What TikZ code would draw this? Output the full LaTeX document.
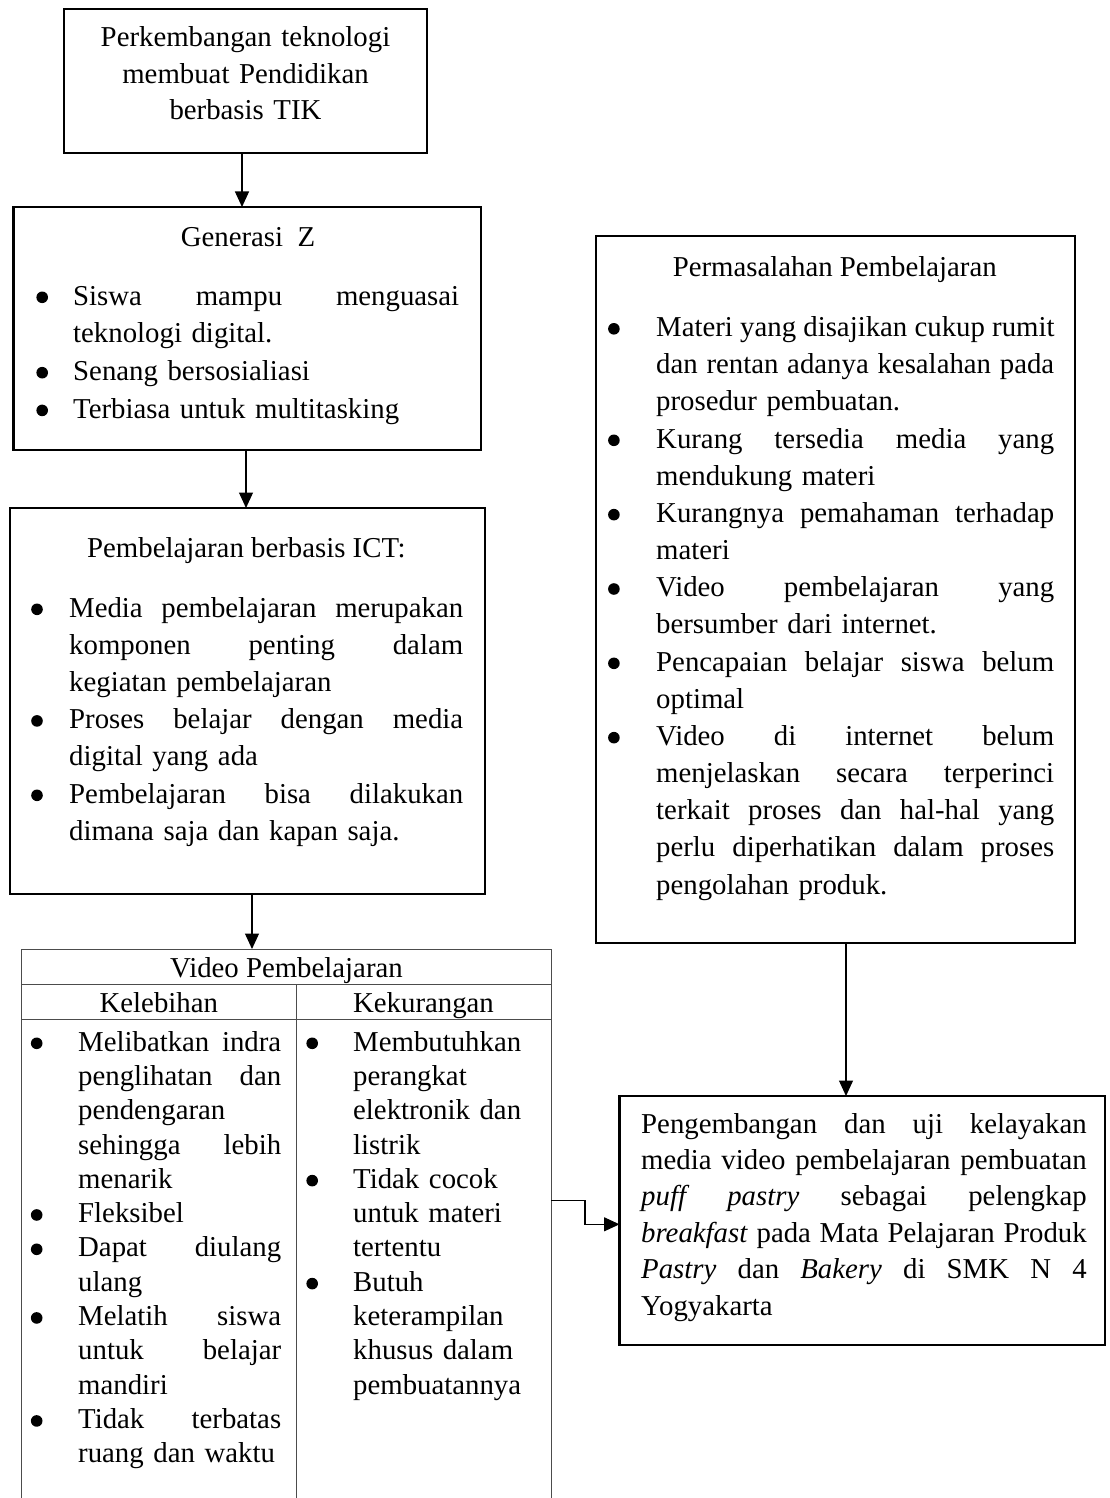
\documentclass[tikz,border=0pt]{standalone}
\usepackage{fontspec}
\setmainfont{Liberation Serif}
\usetikzlibrary{arrows.meta}
\newlength\ind
\newlength\jw
\newcommand\bul{\makebox[0pt][c]{\raisebox{1.9pt}{\tikz\fill[black] (0,0) circle[radius=5.8pt];}}}
\newcommand\sj[1]{\leavevmode\hbox to \jw{\spaceskip=0.25em plus 1fil\relax #1}}
\newcommand\BL[1]{\makebox[\ind][l]{\bul}#1}
\newcommand\BJ[1]{\makebox[\ind][l]{\bul}\sj{#1}}
\newcommand\CL[1]{\hspace*{\ind}#1}
\newcommand\CJ[1]{\hspace*{\ind}\sj{#1}}
\newcommand\JL[1]{\sj{#1}}
\tikzset{
  box/.style={draw, line width=2.3pt, inner sep=0pt, outer sep=0pt, anchor=north west},
  arr/.style={line width=1.2pt, -{Triangle[length=15.5pt,width=14pt]}},
  conn/.style={line width=1.1pt, -{Triangle[length=15.5pt,width=14pt]}},
  txt/.style={inner sep=0pt, font=\fontsize{28.8}{37.2}\selectfont},
  lst/.style={txt, align=left, anchor=base west},
  tline/.style={line width=1pt, black!70},
}
\begin{document}
\begin{tikzpicture}[x=1pt,y=-1pt]
\path[use as bounding box, fill=white] (0,0) rectangle (1109,1498);

% boxes
\node[box, minimum width=363pt, minimum height=143.7pt] (b1) at (64,9) {};
\node[box, minimum width=467.4pt, minimum height=243pt] (b2) at (13.6,207) {};
\node[box, minimum width=475pt, minimum height=386pt] (b3) at (10,508) {};
\node[box, minimum width=479pt, minimum height=707pt] (pm) at (596,236) {};
\node[box, minimum width=485.5pt, minimum height=249pt] (fin) at (619.5,1096) {};
\node[inner sep=0pt, outer sep=0pt, anchor=north west, minimum width=529.8pt, minimum height=549pt] (tbl) at (21.6,949) {};

% table lines
\draw[tline] (tbl.south west) -- (tbl.north west) -- (tbl.north east) -- (tbl.south east);
\draw[tline] (21.6,984) -- (551.4,984);
\draw[tline] (21.6,1019) -- (551.4,1019);
\draw[tline] (296,984) -- (296,1498);

% box 1 text
\node[txt, anchor=base, align=center, text width=363pt, font=\fontsize{28.8}{36.5}\selectfont] (t1) at (245.5,46.7)
  {Perkembangan teknologi\\membuat Pendidikan\\berbasis TIK};

% box 2
\node[txt, anchor=base] (t2) at (248,246) {Generasi\ \ Z};
\node[lst, text width=417pt, font=\fontsize{28.8}{37.7}\selectfont] (l2) at (42,305)
  {\setlength\ind{31pt}\setlength\jw{386pt}\BJ{Siswa mampu menguasai}\\
   \CL{teknologi digital.}\\
   \BL{Senang bersosialiasi}\\
   \BL{Terbiasa untuk multitasking}};

% box 3
\node[txt, anchor=base] (t3) at (246.4,557) {Pembelajaran berbasis ICT:};
\node[lst, text width=426.2pt, font=\fontsize{28.8}{37.2}\selectfont] (l3) at (36.8,617)
  {\setlength\ind{32.2pt}\setlength\jw{394pt}\BJ{Media pembelajaran merupakan}\\
   \CJ{komponen penting dalam}\\
   \CL{kegiatan pembelajaran}\\
   \BJ{Proses belajar dengan media}\\
   \CL{digital yang ada}\\
   \BJ{Pembelajaran bisa dilakukan}\\
   \CL{dimana saja dan kapan saja.}};

% permasalahan
\node[txt, anchor=base] (t4) at (834.7,276) {Permasalahan Pembelajaran};
\node[lst, text width=440.3pt, font=\fontsize{28.8}{37.17}\selectfont] (l4) at (613.7,336.5)
  {\setlength\ind{42.3pt}\setlength\jw{398pt}\BJ{Materi yang disajikan cukup rumit}\\
   \CJ{dan rentan adanya kesalahan pada}\\
   \CL{prosedur pembuatan.}\\
   \BJ{Kurang tersedia media yang}\\
   \CL{mendukung materi}\\
   \BJ{Kurangnya pemahaman terhadap}\\
   \CL{materi}\\
   \BJ{Video pembelajaran yang}\\
   \CL{bersumber dari internet.}\\
   \BJ{Pencapaian belajar siswa belum}\\
   \CL{optimal}\\
   \BJ{Video di internet belum}\\
   \CJ{menjelaskan secara terperinci}\\
   \CJ{terkait proses dan hal-hal yang}\\
   \CJ{perlu diperhatikan dalam proses}\\
   \CL{pengolahan produk.}};

% table text
\node[txt, anchor=base] (t5) at (286.5,977) {Video Pembelajaran};
\node[txt, anchor=base] (t6) at (158.8,1012.6) {Kelebihan};
\node[txt, anchor=base] (t7) at (423.5,1012.6) {Kekurangan};
\node[lst, text width=244.5pt, font=\fontsize{28.8}{34.33}\selectfont] (l5) at (36.5,1051)
  {\setlength\ind{41.5pt}\setlength\jw{203pt}\BJ{Melibatkan indra}\\
   \CJ{penglihatan dan}\\
   \CL{pendengaran}\\
   \CJ{sehingga lebih}\\
   \CL{menarik}\\
   \BL{Fleksibel}\\
   \BJ{Dapat diulang}\\
   \CL{ulang}\\
   \BJ{Melatih siswa}\\
   \CJ{untuk belajar}\\
   \CL{mandiri}\\
   \BJ{Tidak terbatas}\\
   \CL{ruang dan waktu}};
\node[lst, text width=228pt, font=\fontsize{28.8}{34.33}\selectfont] (l6) at (312,1051)
  {\setlength\ind{41pt}\BL{Membutuhkan}\\
   \CL{perangkat}\\
   \CL{elektronik dan}\\
   \CL{listrik}\\
   \BL{Tidak cocok}\\
   \CL{untuk materi}\\
   \CL{tertentu}\\
   \BL{Butuh}\\
   \CL{keterampilan}\\
   \CL{khusus dalam}\\
   \CL{pembuatannya}};

% final box text
\node[lst, text width=445.5pt, font=\fontsize{28.8}{36.4}\selectfont] (l7) at (641,1133)
  {\setlength\jw{445.5pt}\JL{Pengembangan dan uji kelayakan}\\
   \JL{media video pembelajaran pembuatan}\\
   \JL{\textit{puff pastry} sebagai pelengkap}\\
   \JL{\textit{breakfast} pada Mata Pelajaran Produk}\\
   \JL{\textit{Pastry} dan \textit{Bakery} di SMK N 4}\\
   Yogyakarta};

% connectors
\coordinate (a1) at ([xshift=-3.5pt]b1.south);
\draw[arr] (a1) -- (a1 |- b2.north);
\coordinate (a2) at ([xshift=-1.3pt]b2.south);
\draw[arr] (a2) -- (a2 |- b3.north);
\coordinate (a3) at ([xshift=4.5pt]b3.south);
\draw[arr] (a3) -- (a3 |- tbl.north);
\coordinate (a4) at ([xshift=10.5pt]pm.south);
\draw[arr] (a4) -- (a4 |- fin.north);
\coordinate (c1) at (551.4,1200.5);
\coordinate (c2) at ([yshift=-3.8pt]fin.west);
\draw[conn] (c1) -- ++(33.6,0) |- (c2);
\end{tikzpicture}
\end{document}
